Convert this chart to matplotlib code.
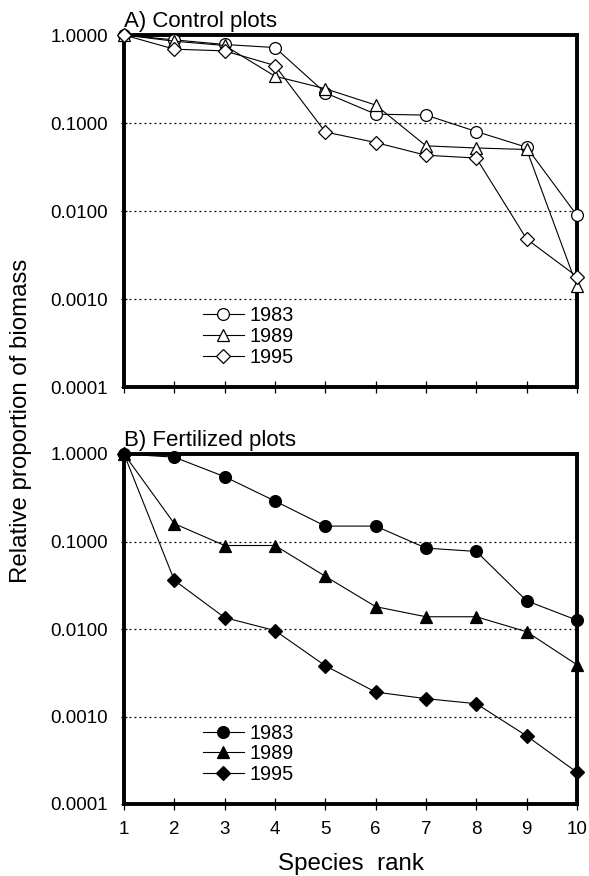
import numpy as np
import matplotlib
matplotlib.use('Agg')
from matplotlib import pyplot as plt
from matplotlib.ticker import FixedLocator, FixedFormatter, NullLocator

ranks = [1, 2, 3, 4, 5, 6, 7, 8, 9, 10]
years = ['1983', '1989', '1995']

# A) control plots
control_1983 = [1.0, 0.88, 0.78, 0.72, 0.22, 0.126, 0.123, 0.08, 0.053, 0.0089]
control_1989 = [1.0, 0.85, 0.76, 0.34, 0.245, 0.16, 0.055, 0.052, 0.05, 0.0014]
control_1995 = [1.0, 0.69, 0.66, 0.45, 0.079, 0.06, 0.043, 0.04, 0.0048, 0.0018]

# B) fertilized plots
fert_1983 = [1.0, 0.92, 0.55, 0.29, 0.15, 0.15, 0.084, 0.077, 0.021, 0.0126]
fert_1989 = [1.0, 0.16, 0.09, 0.09, 0.04, 0.018, 0.0138, 0.0138, 0.0093, 0.0039]
fert_1995 = [1.0, 0.036, 0.0135, 0.0096, 0.0038, 0.0019, 0.0016, 0.0014, 0.0006, 0.00023]

ytick_vals = [0.0001, 0.001, 0.01, 0.1, 1.0]
ytick_labels = ['0.0001', '0.0010', '0.0100', '0.1000', '1.0000']

plt.rcParams['font.family'] = ['Liberation Sans', 'DejaVu Sans']

fig = plt.figure(figsize=(5.89, 8.76), dpi=100)
W, H = 589.0, 876.0
ax_a = fig.add_axes([124 / W, 1 - 387 / H, 453 / W, 352 / H])
ax_b = fig.add_axes([124 / W, 1 - 804 / H, 453 / W, 350 / H])


def style_axes(ax, title, filled, series, show_xlabels):
    markers = ['o', '^', 'D']
    sizes = [8.5, 8.5, 7]
    for vals, yr, m, ms in zip(series, years, markers, sizes):
        ax.plot(ranks, vals, color='black', lw=0.8, marker=m, markersize=ms,
                markerfacecolor='black' if filled else 'white',
                markeredgecolor='black', markeredgewidth=0.9, label=yr,
                clip_on=False, zorder=3)
    ax.set_yscale('log')
    ax.set_ylim(0.0001, 1.0)
    ax.set_xlim(1, 10)
    ax.yaxis.set_major_locator(FixedLocator(ytick_vals))
    ax.yaxis.set_major_formatter(FixedFormatter(ytick_labels))
    ax.yaxis.set_minor_locator(NullLocator())
    ax.set_xticks(ranks)
    if show_xlabels:
        ax.set_xticklabels([str(r) for r in ranks])
    else:
        ax.set_xticklabels([])
    for y in [0.1, 0.01, 0.001]:
        ax.axhline(y, color='black', lw=0.9, ls=(0, (1.5, 2.5)), zorder=1)
    for s in ax.spines.values():
        s.set_linewidth(2.8)
    ax.tick_params(axis='both', direction='inout', length=8, width=0.9,
                   labelsize=13.5)
    ax.tick_params(axis='y', length=5, pad=9)
    ax.tick_params(axis='x', pad=8)
    ax.text(0.0, 1.008, title, transform=ax.transAxes, fontsize=16,
            ha='left', va='bottom')
    ax.legend(loc='upper left', bbox_to_anchor=(0.174, 0.229), frameon=False,
              fontsize=14.3, handlelength=2.05, handletextpad=0.3,
              labelspacing=0.08, borderpad=0.0, borderaxespad=0.0)


style_axes(ax_a, 'A) Control plots', False,
           [control_1983, control_1989, control_1995], False)
style_axes(ax_b, 'B) Fertilized plots', True,
           [fert_1983, fert_1989, fert_1995], True)

ax_b.set_xlabel('Species  rank', fontsize=17.4, labelpad=11)
fig.text(21 / W, 1 - 421 / H, 'Relative proportion of biomass', rotation=90,
         fontsize=17.3, ha='center', va='center')

fig.savefig('out.png', dpi=100)
